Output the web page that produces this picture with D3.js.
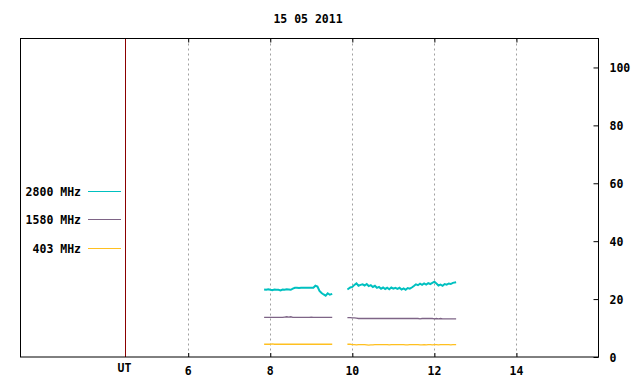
<!DOCTYPE html>
<html>
<head>
<meta charset="utf-8">
<script src="https://cdn.jsdelivr.net/npm/d3@7"></script>
<style>
  body { margin: 0; background: #fff; }
  text { font-family: "DejaVu Sans Mono", monospace; font-weight: bold; font-size: 11.5px; fill: #000; }
</style>
</head>
<body>
<div id="chart"></div>
<script>
// time segments (UT hours)
var times1 = [7.85, 7.90, 7.95, 8.00, 8.05, 8.10, 8.15, 8.20, 8.25, 8.30, 8.35, 8.40, 8.45, 8.50, 8.55, 8.60, 8.65,
  8.70, 8.75, 8.80, 8.85, 8.90, 8.95, 9.00, 9.05, 9.10, 9.15, 9.20, 9.25, 9.30, 9.35, 9.40, 9.45, 9.51];
var times2 = [9.88, 9.95, 10.00, 10.05, 10.10, 10.15, 10.20, 10.25, 10.30, 10.35, 10.40, 10.45, 10.50, 10.55, 10.60,
  10.65, 10.70, 10.75, 10.80, 10.85, 10.90, 10.95, 11.00, 11.05, 11.10, 11.15, 11.20, 11.25, 11.30, 11.35, 11.40,
  11.45, 11.50, 11.55, 11.60, 11.65, 11.70, 11.75, 11.80, 11.85, 11.90, 11.95, 12.00, 12.05, 12.10, 12.15, 12.20,
  12.25, 12.30, 12.35, 12.40, 12.45, 12.53];

// 2800 MHz
var f2800a = [23.3, 23.2, 23.4, 23.2, 23.1, 23.3, 23.2, 23.2, 23.0, 23.3, 23.2, 23.4, 23.3, 23.2, 23.6, 23.9, 23.9,
  23.8, 23.9, 23.9, 23.9, 23.9, 23.9, 23.9, 23.9, 24.6, 24.3, 22.8, 22.1, 21.6, 21.2, 22.0, 21.5, 21.8];
var f2800b = [23.3, 24.0, 24.2, 24.9, 25.4, 24.6, 24.9, 25.1, 24.7, 25.2, 24.5, 24.8, 24.2, 24.6, 23.9,
  24.2, 23.6, 24.0, 23.5, 23.9, 23.4, 24.0, 23.6, 23.9, 23.5, 23.9, 23.3, 23.7, 23.2, 23.8, 23.6,
  24.0, 24.5, 25.1, 24.8, 25.3, 24.9, 25.4, 25.0, 25.5, 25.2, 25.6, 26.0, 25.4, 24.7, 25.0, 24.6,
  25.2, 25.0, 25.4, 25.2, 25.6, 25.8];

// 1580 MHz
var f1580a = [13.7, 13.7, 13.7, 13.7, 13.7, 13.7, 13.7, 13.7, 13.7, 13.7, 13.8, 13.9, 13.8, 13.9, 13.7, 13.7, 13.7,
  13.7, 13.7, 13.7, 13.7, 13.7, 13.7, 13.8, 13.7, 13.7, 13.7, 13.7, 13.7, 13.7, 13.7, 13.7, 13.7, 13.7];
var f1580b = [13.6, 13.6, 13.5, 13.5, 13.4, 13.3, 13.3, 13.3, 13.3, 13.3, 13.3, 13.3, 13.3, 13.3, 13.3,
  13.3, 13.3, 13.3, 13.3, 13.3, 13.3, 13.3, 13.3, 13.3, 13.3, 13.3, 13.3, 13.3, 13.3, 13.3, 13.3,
  13.3, 13.3, 13.3, 13.3, 13.2, 13.3, 13.3, 13.3, 13.3, 13.3, 13.3, 13.2, 13.3, 13.2, 13.3, 13.2,
  13.2, 13.2, 13.2, 13.2, 13.2, 13.2];

// 403 MHz
var f403a = [4.4, 4.4, 4.4, 4.4, 4.5, 4.4, 4.4, 4.4, 4.4, 4.4, 4.4, 4.4, 4.4, 4.4, 4.4, 4.4, 4.4,
  4.4, 4.4, 4.4, 4.4, 4.4, 4.4, 4.4, 4.4, 4.4, 4.4, 4.4, 4.4, 4.4, 4.4, 4.4, 4.4, 4.4];
var f403b = [4.4, 4.4, 4.3, 4.3, 4.2, 4.3, 4.3, 4.3, 4.3, 4.2, 4.1, 4.2, 4.2, 4.3, 4.3,
  4.3, 4.3, 4.3, 4.3, 4.3, 4.2, 4.3, 4.3, 4.3, 4.3, 4.3, 4.3, 4.3, 4.2, 4.2, 4.3,
  4.3, 4.3, 4.3, 4.3, 4.2, 4.2, 4.3, 4.2, 4.3, 4.3, 4.2, 4.3, 4.3, 4.2, 4.3, 4.3,
  4.3, 4.3, 4.3, 4.2, 4.3, 4.3];

var seriesNames = ["2800 MHz", "1580 MHz", "403 MHz"];
var seriesColors = ["#00c0c0", "#7e6486", "#ffc020"];
var xTicks = [6, 8, 10, 12, 14];
var yTicks = [0, 20, 40, 60, 80, 100];
var utHour = 4.47;
var title = "15 05 2011";

var svgWidth = 640;
var svgHeight = 384;
var plot = { left: 20, right: 598.5, top: 38.5, bottom: 357 };

var svg = d3.select("#chart")
  .append("svg")
  .attr("width", svgWidth)
  .attr("height", svgHeight);

var x = d3.scaleLinear().domain([1.9, 16.0]).range([plot.left, plot.right]);
var y = d3.scaleLinear().domain([0, 110]).range([plot.bottom, plot.top]);

// title
svg.append("text")
  .attr("x", 308)
  .attr("y", 23)
  .attr("text-anchor", "middle")
  .text(title);

// dotted grid
svg.append("g").selectAll("line")
  .data(xTicks)
  .enter()
  .append("line")
  .attr("x1", d => Math.round(x(d)) + 0.5)
  .attr("x2", d => Math.round(x(d)) + 0.5)
  .attr("y1", plot.top)
  .attr("y2", plot.bottom)
  .attr("stroke", "#a0a0a0")
  .attr("stroke-dasharray", "2,3");

// UT line
svg.append("line")
  .attr("x1", Math.round(x(utHour)) + 0.5)
  .attr("x2", Math.round(x(utHour)) + 0.5)
  .attr("y1", plot.top)
  .attr("y2", plot.bottom)
  .attr("stroke", "#8b0000");

// bottom axis with ticks pointing in
var bottomAxis = d3.axisBottom(x).tickValues(xTicks).tickSize(-4).tickFormat("");
svg.append("g")
  .attr("transform", `translate(0, ${plot.bottom})`)
  .call(bottomAxis)
  .call(g => g.select(".domain").remove());

var topAxis = d3.axisTop(x).tickValues(xTicks).tickSize(-4).tickFormat("");
svg.append("g")
  .attr("transform", `translate(0, ${plot.top})`)
  .call(topAxis)
  .call(g => g.select(".domain").remove());

// x labels
svg.append("g").selectAll("text")
  .data(xTicks)
  .enter()
  .append("text")
  .attr("x", d => x(d))
  .attr("y", 375)
  .attr("text-anchor", "middle")
  .text(d => d);

svg.append("text")
  .attr("x", x(utHour) - 1)
  .attr("y", 372)
  .attr("text-anchor", "middle")
  .text("UT");

// right axis
var rightAxis = d3.axisRight(y).tickValues(yTicks).tickSize(-5).tickPadding(11);
svg.append("g")
  .attr("transform", `translate(${plot.right}, 0)`)
  .call(rightAxis)
  .call(g => g.select(".domain").remove())
  .call(g => g.selectAll("text")
    .attr("font-family", null)
    .attr("font-size", null)
    .attr("dy", "0.36em"));

// border
svg.append("rect")
  .attr("x", plot.left + 0.5)
  .attr("y", plot.top)
  .attr("width", plot.right - plot.left - 0.5)
  .attr("height", plot.bottom - plot.top)
  .attr("fill", "none")
  .attr("stroke", "#000");

// data lines
var line = d3.line()
  .x(d => x(d[0]))
  .y(d => y(d[1]));

var segs = [
  [f2800a, f2800b],
  [f1580a, f1580b],
  [f403a, f403b]
];

segs.forEach(function(pair, i) {
  [[times1, pair[0]], [times2, pair[1]]].forEach(function(tv) {
    svg.append("path")
      .datum(d3.zip(tv[0], tv[1]))
      .attr("d", line)
      .attr("fill", "none")
      .attr("stroke", seriesColors[i])
      .attr("stroke-width", i === 0 ? 2 : 1.3);
  });
});

// legend
var legendY = [191.5, 219.5, 248.5];
var legend = svg.append("g").selectAll("g")
  .data(seriesNames)
  .enter()
  .append("g");

legend.append("text")
  .attr("x", 81)
  .attr("y", (d, i) => legendY[i] + 4)
  .attr("text-anchor", "end")
  .text(d => d);

legend.append("line")
  .attr("x1", 88)
  .attr("x2", 121)
  .attr("y1", (d, i) => legendY[i])
  .attr("y2", (d, i) => legendY[i])
  .attr("stroke", (d, i) => seriesColors[i]);
</script>
</body>
</html>
